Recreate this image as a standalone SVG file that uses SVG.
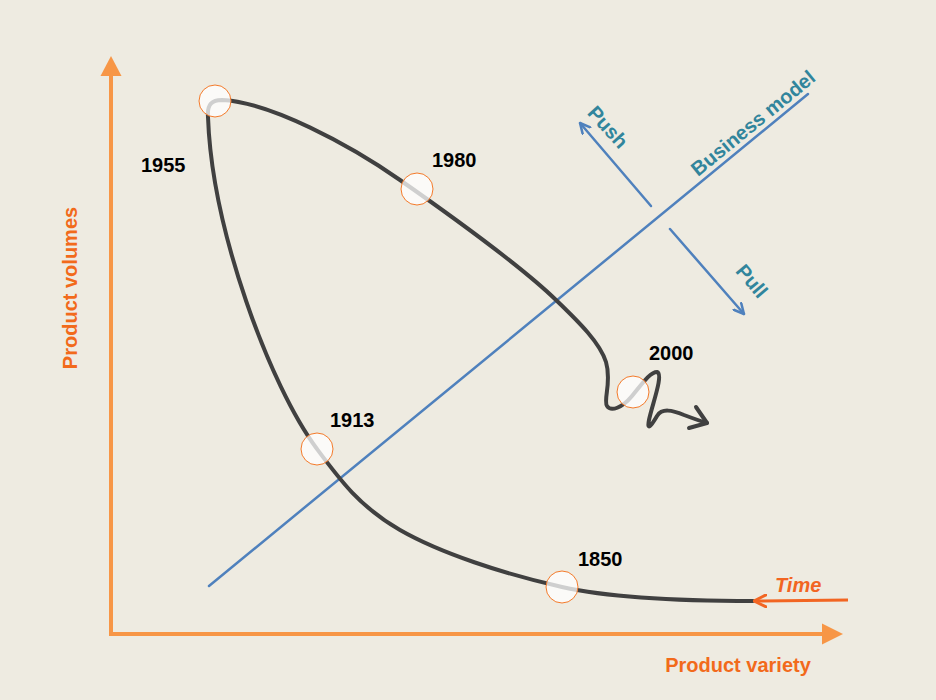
<svg xmlns="http://www.w3.org/2000/svg" width="936" height="700" viewBox="0 0 936 700">
<defs>
<style>
.axis{stroke:#F79646;stroke-width:4;fill:none}
.axhead{fill:#F79646}
.curve{stroke:#404040;stroke-width:4;fill:none;stroke-linecap:round;stroke-linejoin:round}
.blue{stroke:#4F81BD;stroke-width:2.5;fill:none;stroke-linecap:round}
.mark{fill:#FFFFFF;fill-opacity:0.75;stroke:#F47A2A;stroke-width:1}
.yr{font-family:"Liberation Sans",Arial,sans-serif;font-weight:bold;font-size:20px;fill:#000000}
.ax{font-family:"Liberation Sans",Arial,sans-serif;font-weight:bold;font-size:20px;fill:#F26A1B}
.teal{font-family:"Liberation Sans",Arial,sans-serif;font-weight:bold;font-size:20px;fill:#31859C}
</style>
<marker id="chevBlue" viewBox="0 0 12 12" refX="11" refY="6" markerWidth="12" markerHeight="12" markerUnits="userSpaceOnUse" orient="auto">
<path d="M1,1 L11,6 L1,11" fill="none" stroke="#4F81BD" stroke-width="2.5" stroke-linecap="round" stroke-linejoin="round"/>
</marker>
<marker id="chevOrange" viewBox="0 0 14 14" refX="13" refY="7" markerWidth="14" markerHeight="14" markerUnits="userSpaceOnUse" orient="auto">
<path d="M1,1 L13,7 L1,13" fill="none" stroke="#F26522" stroke-width="3" stroke-linecap="round" stroke-linejoin="round"/>
</marker>
</defs>
<rect x="0" y="0" width="936" height="700" fill="#EEEBE1"/>

<g id="axes">
<line class="axis" x1="111" y1="634" x2="111" y2="74"/>
<polygon class="axhead" points="111,56 100.5,76 121.5,76"/>
<line class="axis" x1="109" y1="634" x2="824" y2="634"/>
<polygon class="axhead" points="843,634 822,623.5 822,644.5"/>
<text class="ax" transform="translate(77,288) rotate(-90)" text-anchor="middle">Product volumes</text>
<text class="ax" x="738" y="672" text-anchor="middle">Product variety</text>
</g>

<g id="connectors">
<line id="business-model-line" class="blue" x1="209" y1="586" x2="808" y2="94"/>
<line id="push-arrow" class="blue" x1="651" y1="206" x2="580" y2="123" marker-end="url(#chevBlue)"/>
<line id="pull-arrow" class="blue" x1="670" y1="229" x2="744" y2="314" marker-end="url(#chevBlue)"/>
<path id="evolution-curve" class="curve" d="M753,601 C700,601 620,600 562,587 S440,553 400,530 S340,480 317,449 C270,386 212,230 208,117 C207,104 212,100 222,100 C270,102 350,145 400,180 S520,265 556,300 C580,323 600,343 606,362 C612,382 603,400 607,406 C611,412 622,408 632,396 C642,384 650,372 657,372 C664,374 652,405 649,420 C647,430 650,428 657,416 C662,408 672,410 684,415 C692,418 700,421 707,423"/>
<polyline class="curve" points="696,407 707,423 689,428"/>
<line id="time-arrow" x1="848" y1="600" x2="754" y2="601" stroke="#F26522" stroke-width="3" marker-end="url(#chevOrange)"/>
</g>

<g id="m1955"><circle class="mark" cx="215" cy="101" r="16"/><text class="yr" x="141" y="172">1955</text></g>
<g id="m1980"><circle class="mark" cx="417" cy="189" r="16"/><text class="yr" x="432" y="167">1980</text></g>
<g id="m2000"><circle class="mark" cx="633" cy="392" r="16"/><text class="yr" x="649" y="360">2000</text></g>
<g id="m1913"><circle class="mark" cx="317" cy="449" r="16"/><text class="yr" x="330" y="427">1913</text></g>
<g id="m1850"><circle class="mark" cx="562" cy="587" r="16"/><text class="yr" x="578" y="566">1850</text></g>

<g id="business-model"><text class="teal" transform="translate(753,123) rotate(-39.3)" y="7" text-anchor="middle">Business model</text></g>
<g id="push"><text class="teal" transform="translate(608,127) rotate(48)" y="7" text-anchor="middle">Push</text></g>
<g id="pull"><text class="teal" transform="translate(752,281) rotate(50)" y="7" text-anchor="middle">Pull</text></g>
<g id="time"><text x="775" y="592" font-family="Liberation Sans, Arial, sans-serif" font-weight="bold" font-style="italic" font-size="20" fill="#F26522">Time</text></g>
</svg>
